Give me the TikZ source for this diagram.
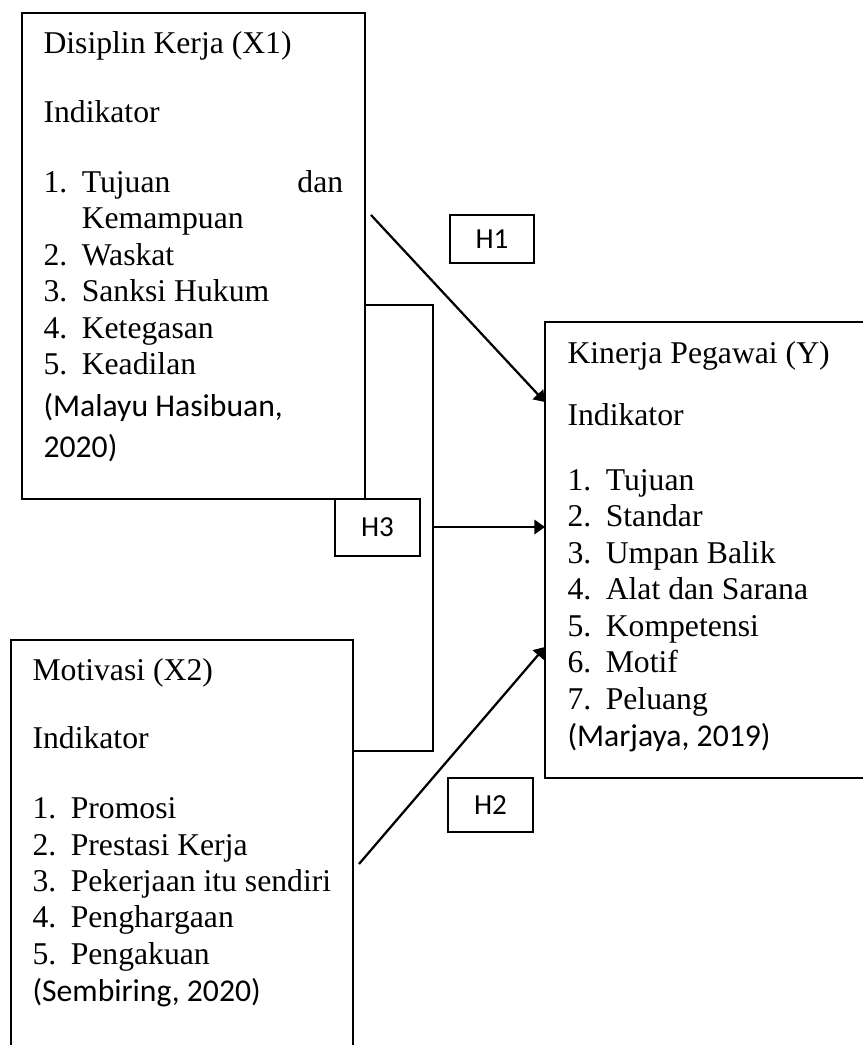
\documentclass[tikz,border=0pt]{standalone}
\usepackage{fontspec}
\setmainfont{Liberation Serif}
\newfontfamily\calibri{Carlito}
\usetikzlibrary{arrows.meta}

\newcommand{\upx}{0.3788pt}
\newcommand{\butir}[1]{\makebox[14.5pt][l]{#1}}

\begin{document}
\begin{tikzpicture}[x=0.3788pt, y=-0.3788pt,
    kotak/.style={draw, line width=0.75pt, inner sep=0pt, outer sep=0pt, anchor=north west},
    teks/.style={inner sep=0pt, anchor=north west, align=left, font=\fontsize{12pt}{13.8pt}\selectfont},
    hipo/.style={draw, line width=0.75pt, inner sep=0pt, minimum width=32pt, font=\calibri\fontsize{11pt}{13pt}\selectfont},
    panah/.style={line width=0.85pt, -{Triangle[length=4pt, width=5.4pt]}},
    garis/.style={line width=0.75pt}]
    \useasboundingbox (0,0) rectangle (863,1045);
    \clip (0,0) rectangle (863,1045);

    % kotak variabel
    \node[kotak, minimum width=129.9pt, minimum height=184.1pt] (x1) at (22,13) {};
    \node[kotak, minimum width=129.5pt, minimum height=162.9pt] (x2) at (11,640) {};
    \node[kotak, minimum width=130.7pt, minimum height=172.7pt] (yb) at (545,322) {};

    \node[teks] (tx1) at (43,27.5) {\strut Disiplin Kerja (X1)\\[12.3pt]
        Indikator\\[12.7pt]
        \butir{1.}\makebox[99pt][l]{Tujuan\hfill dan}\\
        \butir{}Kemampuan\\
        \butir{2.}Waskat\\
        \butir{3.}Sanksi Hukum\\
        \butir{4.}Ketegasan\\
        \butir{5.}Keadilan\\[2.1pt]
        {\calibri (Malayu Hasibuan,}\\[1.8pt]
        {\calibri 2020)}};

    \node[teks] (tx2) at (32,654.5) {\strut Motivasi (X2)\\[12pt]
        Indikator\\[12.7pt]
        \butir{1.}Promosi\\
        \butir{2.}Prestasi Kerja\\
        \butir{3.}Pekerjaan itu sendiri\\
        \butir{4.}Penghargaan\\
        \butir{5.}Pengakuan\\[0.2pt]
        {\calibri (Sembiring, 2020)}};

    \node[teks] (ty) at (567,337.5) {\strut Kinerja Pegawai (Y)\\[9.7pt]
        Indikator\\[10.8pt]
        \butir{1.}Tujuan\\
        \butir{2.}Standar\\
        \butir{3.}Umpan Balik\\
        \butir{4.}Alat dan Sarana\\
        \butir{5.}Kompetensi\\
        \butir{6.}Motif\\
        \butir{7.}Peluang\\[0.2pt]
        {\calibri (Marjaya, 2019)}};

    % hipotesis
    \node[hipo, minimum height=18.2pt] (h1) at (492,239) {H1};
    \node[hipo, minimum height=20.5pt] (h2) at (490.5,805) {H2};
    \node[hipo, minimum height=21.6pt] (h3) at (377.5,527.5) {H3};

    % panah
    \coordinate (h1a) at (371,215);
    \coordinate (h2a) at (359,864);
    \coordinate (ka) at (433,305);
    \coordinate (kb) at (433,751);
    \coordinate (km) at (433,527);
    \draw[panah] (h1a) -- (yb.west |- 0,402);
    \draw[panah] (h2a) -- (yb.west |- 0,647);
    \draw[garis] (x1.east |- ka) -- (ka) -- (kb) -- (x2.east |- kb);
    \draw[panah] (km) -- (km -| yb.west);
\end{tikzpicture}
\end{document}
